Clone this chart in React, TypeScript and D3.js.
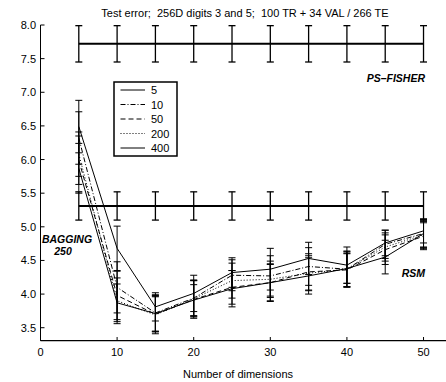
import React from "react";
import * as d3 from "d3";

const dims = [5, 10, 15, 20, 25, 30, 35, 40, 45, 50];
const seriesNames = ["5", "10", "50", "200", "400"];
const mean5 = [6.49, 4.68, 3.81, 4.01, 4.32, 4.37, 4.53, 4.43, 4.76, 4.94];
const mean10 = [6.32, 4.1, 3.72, 3.94, 4.28, 4.27, 4.41, 4.37, 4.74, 4.9];
const mean50 = [5.99, 3.98, 3.7, 3.92, 4.1, 4.17, 4.33, 4.36, 4.66, 4.86];
const mean200 = [6.08, 3.9, 3.69, 3.93, 4.2, 4.22, 4.31, 4.37, 4.7, 4.88];
const mean400 = [5.87, 3.87, 3.71, 3.91, 4.08, 4.17, 4.27, 4.38, 4.55, 4.9];
const err5 = [0.39, 0.33, 0.21, 0.27, 0.22, 0.31, 0.24, 0.27, 0.19, 0.18];
const err10 = [0.39, 0.38, 0.27, 0.27, 0.23, 0.3, 0.28, 0.26, 0.21, 0.2];
const err50 = [0.36, 0.36, 0.26, 0.28, 0.25, 0.28, 0.27, 0.25, 0.22, 0.2];
const err200 = [0.33, 0.34, 0.28, 0.27, 0.26, 0.27, 0.26, 0.27, 0.21, 0.2];
const err400 = [0.37, 0.28, 0.27, 0.23, 0.27, 0.27, 0.27, 0.22, 0.25, 0.21];
const psFisherMean = 7.72;
const psFisherErr = 0.27;
const baggingMean = 5.31;
const baggingErr = 0.21;
const yTicks = [3.5, 4.0, 4.5, 5.0, 5.5, 6.0, 6.5, 7.0, 7.5, 8.0];
const xTicks = [0, 10, 20, 30, 40, 50];
const title = "Test error;  256D digits 3 and 5;  100 TR + 34 VAL / 266 TE";

const means = [mean5, mean10, mean50, mean200, mean400];
const errs = [err5, err10, err50, err200, err400];
const dashes = ["", "5,2,1,2", "5,3", "1,2", ""];

const W = 446;
const H = 382;
const font = "'Liberation Sans', Arial, Helvetica, sans-serif";

export default function App() {
  const x = d3.scaleLinear().domain([0, 53]).range([40.5, 446.5]);
  const y = d3.scaleLinear().domain([3.307, 8.0]).range([340.7, 25]);
  const line = d3
    .line<[number, number]>()
    .x((d) => x(d[0]))
    .y((d) => y(d[1]));
  const cap = 3.5;

  const errBar = (xv: number, m: number, e: number, key: string, sw = 1) => (
    <g key={key} stroke="#000" strokeWidth={sw}>
      <line x1={x(xv)} x2={x(xv)} y1={y(m - e)} y2={y(m + e)} />
      <line x1={x(xv) - cap} x2={x(xv) + cap} y1={y(m - e)} y2={y(m - e)} />
      <line x1={x(xv) - cap} x2={x(xv) + cap} y1={y(m + e)} y2={y(m + e)} />
    </g>
  );

  const legX = 114;
  const legY = 82;
  const legRow = 14.5;

  return (
    <svg
      width={W}
      height={H}
      style={{ position: "absolute", left: 0, top: 0, background: "#fff" }}
      fontFamily={font}
    >
      <rect x={0} y={0} width={W} height={H} fill="#fff" />
      <text x={245} y={16.5} fontSize={11} textAnchor="middle" style={{ whiteSpace: "pre" }}>
        {title}
      </text>
      {/* axes */}
      <line x1={40.5} x2={40.5} y1={y(8.0)} y2={340.7} stroke="#000" strokeWidth={1} />
      <line x1={40.5} x2={446} y1={340.7} y2={340.7} stroke="#000" strokeWidth={1.3} />
      {yTicks.map((t) => (
        <g key={"y" + t}>
          <line x1={40.5} x2={44.5} y1={y(t)} y2={y(t)} stroke="#000" />
          <text x={36} y={y(t) + 4} fontSize={11} textAnchor="end" fill="#000">
            {d3.format(".1f")(t)}
          </text>
        </g>
      ))}
      {xTicks.map((t) => (
        <g key={"x" + t}>
          <line x1={x(t)} x2={x(t)} y1={340.7} y2={337} stroke="#000" />
          <text x={x(t)} y={355.5} fontSize={11} textAnchor="middle" fill="#000">
            {t}
          </text>
        </g>
      ))}
      <text x={238} y={378} fontSize={11} textAnchor="middle">
        Number of dimensions
      </text>

      {/* PS-FISHER */}
      <path
        d={line(dims.map((d) => [d, psFisherMean]) as [number, number][]) || ""}
        fill="none"
        stroke="#000"
        strokeWidth={2}
      />
      {dims.map((d, i) => errBar(d, psFisherMean, psFisherErr, "ps" + i, 1.3))}
      {/* BAGGING */}
      <path
        d={line(dims.map((d) => [d, baggingMean]) as [number, number][]) || ""}
        fill="none"
        stroke="#000"
        strokeWidth={2}
      />
      {dims.map((d, i) => errBar(d, baggingMean, baggingErr, "bg" + i, 1.3))}

      {/* series */}
      {means.map((m, si) => (
        <g key={"s" + si}>
          <path
            d={line(dims.map((d, i) => [d, m[i]]) as [number, number][]) || ""}
            fill="none"
            stroke="#000"
            strokeWidth={1}
            strokeDasharray={dashes[si] || undefined}
          />
          {dims.map((d, i) => errBar(d, m[i], errs[si][i], "e" + si + "-" + i, 1))}
        </g>
      ))}

      {/* labels */}
      <text x={425} y={82} fontSize={10.5} fontWeight="bold" fontStyle="italic" textAnchor="end">
        PS–FISHER
      </text>
      <text x={67} y={243} fontSize={10.5} fontWeight="bold" fontStyle="italic" textAnchor="middle">
        BAGGING
      </text>
      <text x={63} y={255} fontSize={10.5} fontWeight="bold" fontStyle="italic" textAnchor="middle">
        250
      </text>
      <text x={425} y={277} fontSize={10.5} fontWeight="bold" fontStyle="italic" textAnchor="end">
        RSM
      </text>

      {/* legend */}
      <rect x={legX} y={legY} width={63} height={74} fill="#fff" stroke="#000" strokeWidth={1.5} />
      {seriesNames.map((n, i) => (
        <g key={"l" + n}>
          <line
            x1={legX + 6.5}
            x2={legX + 31}
            y1={legY + 8 + i * legRow}
            y2={legY + 8 + i * legRow}
            stroke="#000"
            strokeDasharray={dashes[i] || undefined}
          />
          <text x={legX + 37} y={legY + 12 + i * legRow} fontSize={11}>
            {n}
          </text>
        </g>
      ))}
    </svg>
  );
}
